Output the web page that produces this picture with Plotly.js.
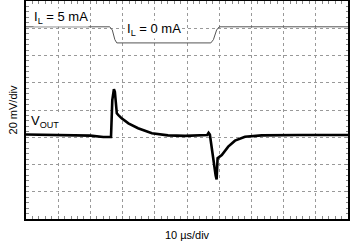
<!DOCTYPE html>
<html>
<head>
<meta charset="utf-8">
<script src="https://cdn.plot.ly/plotly-3.0.1.min.js"></script>
<style>html,body{margin:0;padding:0;background:#fff;}#chart{width:350px;height:243px;}</style>
</head>
<body>
<div id="chart"></div>
<script>
// Time axis in microseconds (10 µs/div)
var timeIL = [0, 26.0, 26.8, 27.6, 28.2, 57.4, 58.2, 59.2, 60.0, 100];
var currentIL = [5, 5, 4, 1, 0, 0, 1, 4, 5, 5]; // mA

var timeV = [0, 10, 20, 24, 26.4, 26.8, 27.1, 27.3, 27.6, 27.95, 28.2, 28.7, 29.7, 31.8, 34.8, 39.1, 44.1, 49.4,
             56.3, 56.7, 57.1, 58.9, 59.2, 59.5, 60.8, 62.8, 64.9, 68.0, 73.2, 85, 100];
var vout = [-18, -18.2, -18.8, -19.8, -19.8, 7.3, 14.2, 15.2, 13.4, 2.4, -2.4, -3.7, -6.1, -9.8, -13.4, -17.1, -18.6, -19.0,
            -18.3, -16.7, -18.0, -48, -50.9, -35.4, -33, -26.9, -22.5, -19.6, -18.6, -18.3, -18.3]; // mV

var labelIL5 = 'I<sub>L</sub> = 5 mA';
var labelIL0 = 'I<sub>L</sub> = 0 mA';
var labelV = 'V<sub>OUT</sub>';
var xTitle = '10 \u00b5s/div';
var yTitle = '20 mV/div';

var font = {family: 'Arial, "Liberation Sans", sans-serif', size: 11, color: '#000'};
var labelFont = {family: font.family, size: 13, color: '#000'};
var tickGrey = '#888';

var traces = [
  {x: timeIL, y: currentIL, type: 'scatter', mode: 'lines', yaxis: 'y2',
   line: {color: '#555', width: 1}, hoverinfo: 'skip'},
  {x: timeV, y: vout, type: 'scatter', mode: 'lines',
   line: {color: '#000', width: 2.6}, hoverinfo: 'skip'}
];

function centerAxis(extra) {
  var a = {anchor: 'free', position: 0.5, showgrid: false, showline: false, zeroline: false,
           showticklabels: false, ticklen: 2.5, tickwidth: 1, tickcolor: tickGrey};
  for (var k in extra) a[k] = extra[k];
  return a;
}

function label(text, x, y) {
  return {text: text, xref: 'paper', yref: 'paper', x: x, y: y, xanchor: 'center', yanchor: 'middle',
          showarrow: false, bgcolor: '#fff', borderpad: 0, font: labelFont};
}

var layout = {
  width: 350, height: 243,
  margin: {l: 26, r: 2, t: 1, b: 24},
  paper_bgcolor: '#fff', plot_bgcolor: '#fff',
  showlegend: false,
  font: font,
  xaxis: {range: [0, 100], dtick: 10, showgrid: true, gridcolor: '#999', griddash: 'dot', gridwidth: 1,
          zeroline: false, showticklabels: false, ticks: 'inside', ticklen: 3, tickcolor: tickGrey,
          minor: {dtick: 2, ticks: 'inside', ticklen: 2.5, tickcolor: tickGrey, showgrid: false},
          showline: true, linecolor: '#000', linewidth: 2, mirror: 'allticks', fixedrange: true,
          title: {text: xTitle, font: font, standoff: 11}},
  yaxis: {range: [-80, 80], dtick: 20, showgrid: true, gridcolor: '#999', griddash: 'dot', gridwidth: 1,
          zeroline: false, showticklabels: false, ticks: 'inside', ticklen: 3, tickcolor: tickGrey,
          minor: {dtick: 4, ticks: 'inside', ticklen: 2.5, tickcolor: tickGrey, showgrid: false},
          showline: true, linecolor: '#000', linewidth: 2, mirror: 'allticks', fixedrange: true,
          title: {text: yTitle, font: font, standoff: 4}},
  yaxis2: {overlaying: 'y', range: [-54.6, 13.0], visible: false, fixedrange: true},
  xaxis3: centerAxis({overlaying: 'x', range: [0, 100], dtick: 2, ticks: 'outside'}),
  xaxis4: centerAxis({overlaying: 'x', range: [0, 100], dtick: 2, ticks: 'inside'}),
  yaxis3: centerAxis({overlaying: 'y', range: [-80, 80], dtick: 4, ticks: 'outside'}),
  yaxis4: centerAxis({overlaying: 'y', range: [-80, 80], dtick: 4, ticks: 'inside'}),
  annotations: [
    label(labelIL5, 0.109, 0.925),
    label(labelIL0, 0.399, 0.868),
    label(labelV, 0.059, 0.448)
  ]
};

Plotly.newPlot('chart', traces, layout, {staticPlot: true, displayModeBar: false});
</script>
</body>
</html>
